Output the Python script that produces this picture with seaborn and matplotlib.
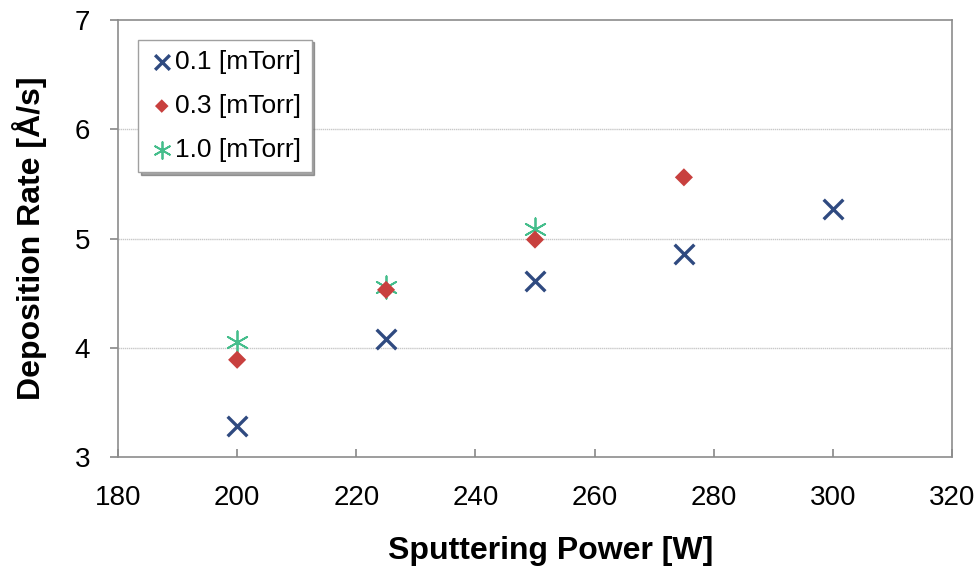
import matplotlib
matplotlib.use("Agg")
import matplotlib.pyplot as plt
import seaborn as sns
import pandas as pd

power_01 = [200, 225, 250, 275, 300]
rate_01 = [3.28, 4.08, 4.61, 4.86, 5.27]
power_03 = [200, 225, 250, 275]
rate_03 = [3.89, 4.53, 4.99, 5.56]
power_10 = [200, 225, 250]
rate_10 = [4.05, 4.56, 5.09]
labels = ["0.1 [mTorr]", "0.3 [mTorr]", "1.0 [mTorr]"]

sns.set_theme(style="white")
plt.rcParams['font.family'] = ['Liberation Sans', 'DejaVu Sans']
plt.rcParams['text.color'] = 'black'
plt.rcParams['axes.labelcolor'] = 'black'
plt.rcParams['xtick.color'] = 'black'
plt.rcParams['ytick.color'] = 'black'

fig = plt.figure(figsize=(9.8, 5.71), dpi=100)
ax = fig.add_axes([0.1204, 0.1996, 0.8510, 0.7654])

d1 = pd.DataFrame({"x": power_01, "y": rate_01})
d3 = pd.DataFrame({"x": power_03, "y": rate_03})
d10 = pd.DataFrame({"x": power_10, "y": rate_10})

sns.scatterplot(data=d1, x="x", y="y", ax=ax, marker="x", s=200, color="#2F4A80",
                linewidth=2.4, label=labels[0], zorder=3)
sns.scatterplot(data=d3, x="x", y="y", ax=ax, marker="D", s=85, color="#C8403E",
                edgecolor="none", label=labels[1], zorder=4)
sns.scatterplot(data=d10, x="x", y="y", ax=ax, marker=(6, 2, 0), s=260, color="#45BE8C",
                linewidth=1.3, label=labels[2], zorder=2)

ax.set_xlim(180, 320)
ax.set_ylim(3, 7)
ax.set_xticks([180, 200, 220, 240, 260, 280, 300, 320])
ax.set_yticks([3, 4, 5, 6, 7])
for yv in [4, 5, 6]:
    ax.axhline(yv, color="#C8C8C8", lw=1.0, ls=(0, (1, 0.5)), zorder=1)

for s in ax.spines.values():
    s.set_color("#8C8C8C")
    s.set_linewidth(1.2)

ax.tick_params(axis="x", direction="in", length=6, color="#8C8C8C", labelcolor="black",
               pad=20, labelsize=20, bottom=True)
ax.tick_params(axis="y", direction="out", length=6, color="#8C8C8C", labelcolor="black",
               pad=14, labelsize=20, left=True)

ax.set_xlabel("Sputtering Power [W]", fontsize=23, fontweight="bold")
ax.set_ylabel("Deposition Rate [Å/s]", fontsize=23, fontweight="bold", labelpad=20)
ax.xaxis.set_label_coords(0.519, -0.18)

leg = ax.legend(loc="upper left", bbox_to_anchor=(0.024, 0.955), fontsize=19,
                frameon=True, fancybox=False, shadow=True, handletextpad=0.0,
                handlelength=1.0, borderpad=0.4, labelspacing=0.75, borderaxespad=0,
                markerscale=0.75)
leg.get_frame().set_edgecolor("#A0A0A0")
leg.get_frame().set_linewidth(1.0)

fig.savefig("out.png", dpi=100)
